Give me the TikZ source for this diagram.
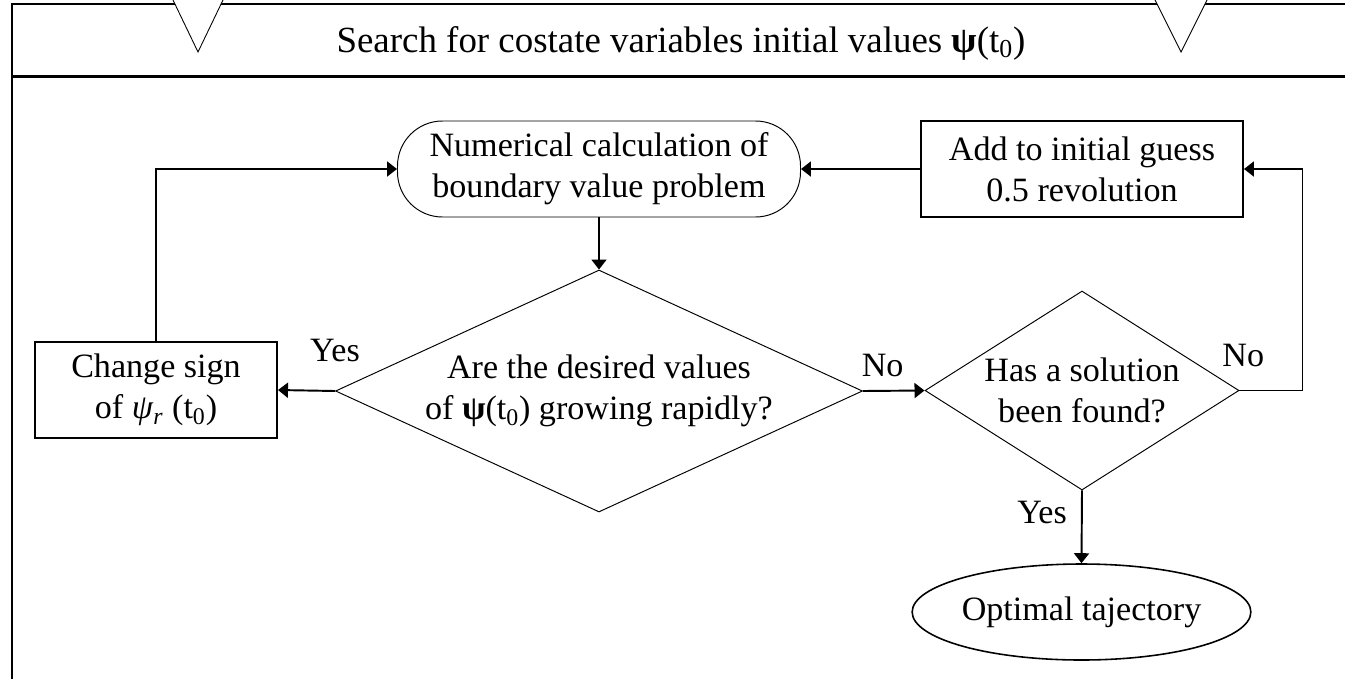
\documentclass[tikz,border=0pt]{standalone}
\usepackage{fontspec}
\setmainfont{Liberation Serif}
\usetikzlibrary{shapes}
\usetikzlibrary{positioning}
\usetikzlibrary{arrows.meta}
\tikzset{
    frame/.style = {line width=1.15pt,draw=black},
    notch/.style = {line width=0.5pt,draw=black},
    procbox/.style = {rectangle, line width=1.1pt, draw=black, align=center, inner sep=0pt},
    calcbox/.style = {rectangle, rounded corners=0.9cm, line width=0.55pt, draw=black, align=center, inner sep=0pt},
    decision/.style = {diamond, line width=0.55pt, draw=black, align=center, inner sep=0pt},
    endnode/.style = {ellipse, line width=0.9pt, draw=black, align=center, inner sep=0pt},
    lbl/.style = {inner sep=0pt},
    edgen/.style = {-{Triangle[length=0.2cm,width=0.3cm]},line width=1.1pt},
    every picture/.style={font issue=\fontsize{19.4}{23.3}},
    font issue/.style={execute at begin picture={#1\selectfont}
  }
}

\begin{document}
\begin{tikzpicture}[scale=1.00]
\useasboundingbox[fill=white] (0,0) rectangle (26.9,-13.56);

% frame and header
\draw[frame] (0.24,-14.0) -- (0.24,-0.08) -- (27.2,-0.08);
\draw[frame] (0.24,-1.53) -- (27.2,-1.53);
\fill[white] (3.46,0) -- (3.96,-1.04) -- (4.46,0) -- cycle;
\draw[notch] (3.46,0) -- (3.96,-1.04) -- (4.46,0);
\fill[white] (23.1,0) -- (23.62,-1.04) -- (24.14,0) -- cycle;
\draw[notch] (23.1,0) -- (23.62,-1.04) -- (24.14,0);
\node[lbl, anchor=base, font=\fontsize{21}{25}\selectfont] at (13.62,-1.04) (head)
  {Search for costate variables initial values \textbf{ψ}(t\textsubscript{0})};

% blocks
\node[calcbox, minimum width=8.06cm, minimum height=1.92cm] at (11.98,-3.38) (calc)
  {Numerical calculation of\\boundary value problem};
\node[procbox, minimum width=6.44cm, minimum height=1.92cm] at (21.64,-3.38) (add)
  {Add to initial guess\\0.5 revolution};
\node[decision, aspect=2.18, minimum width=10.54cm, minimum height=4.84cm] at (11.98,-7.82) (grow)
  {Are the desired values\\of \textbf{ψ}(t\textsubscript{0}) growing rapidly?};
\node[decision, aspect=1.58, minimum width=6.28cm, minimum height=3.98cm] at (21.64,-7.81) (found)
  {Has a solution\\been found?};
\node[procbox, minimum width=4.84cm, minimum height=1.92cm] at (3.12,-7.8) (sign)
  {Change sign\\of \textit{ψ}\textsubscript{\textit{r}} (t\textsubscript{0})};
\node[endnode, minimum width=5.54cm, minimum height=1.92cm] at (21.63,-12.24) (opt)
  {Optimal tajectory};

% connectors
\draw[edgen] (calc) -- (grow);
\draw[edgen] (grow.west) -- node[lbl, pos=0, above=0.56cm] {Yes} (sign.east);
\draw[edgen] (grow.east) -- node[lbl, pos=0.32, above=0.26cm] {No} (found.west);
\draw[edgen] (sign.north) |- (calc.west);
\draw[edgen] (add.west) -- (calc.east);
\draw[edgen] (found.east) -- node[lbl, pos=0.06, above=0.46cm] {No} ++(1.26,0) |- (add.east);
\draw[edgen] (found.south) -- node[lbl, pos=0.3, left=0.28cm] {Yes} (opt.north);

\end{tikzpicture}
\end{document}
